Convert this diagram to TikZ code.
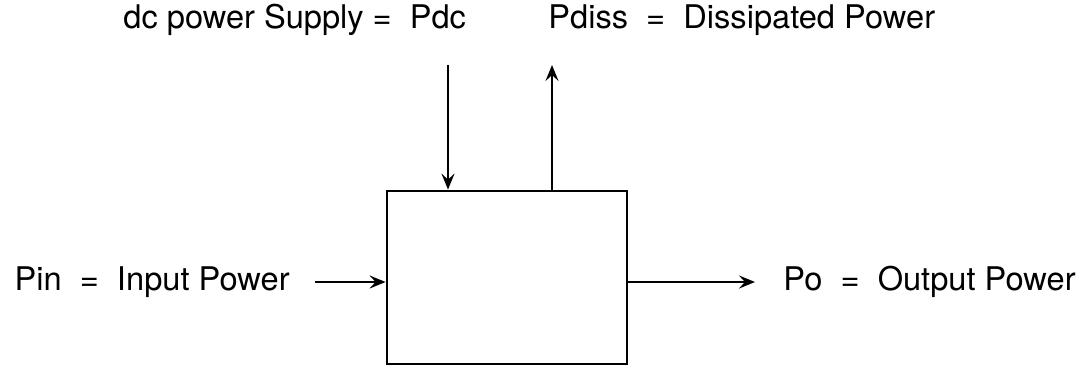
\documentclass[tikz,border=0pt]{standalone}
\usepackage{fontspec}
\setmainfont{TeX Gyre Heros}
\usetikzlibrary{arrows.meta}

\begin{document}
\begin{tikzpicture}[x=0.5pt, y=0.5pt,
    lbl/.style={inner sep=0pt, font=\fontsize{16.3}{19}\selectfont},
    flow/.style={line width=1.2pt, -{Stealth[length=8pt, width=6.5pt, inset=3pt]}}]
    \useasboundingbox (0,0) rectangle (1092,366);

    % Draw nodes
    \node[draw, line width=1.4pt, minimum width=120pt, minimum height=86.5pt, inner sep=0pt] (amp) at (507,88.5) {};
    \node[lbl, anchor=east] (pin) at (290,84) {Pin \ = \ Input Power};
    \node[lbl, anchor=west] (po) at (783,84) {Po \ = \ Output Power};
    \node[lbl, anchor=west] (pdc) at (123,346) {dc power Supply = \ Pdc};
    \node[lbl, anchor=west] (pdiss) at (548,346) {Pdiss \ = \ Dissipated Power};
    \coordinate (dctop) at (448,301);
    \coordinate (disstop) at (552,301);

    % Draw connections
    \draw[flow] ([xshift=12.5pt]pin.east) -- (pin.east -| amp.west);
    \draw[flow] (po.west -| amp.east) -- ([xshift=-14pt]po.west);
    \draw[flow] (dctop) -- (dctop |- amp.north);
    \draw[flow] (disstop |- amp.north) -- (disstop);
\end{tikzpicture}
\end{document}
